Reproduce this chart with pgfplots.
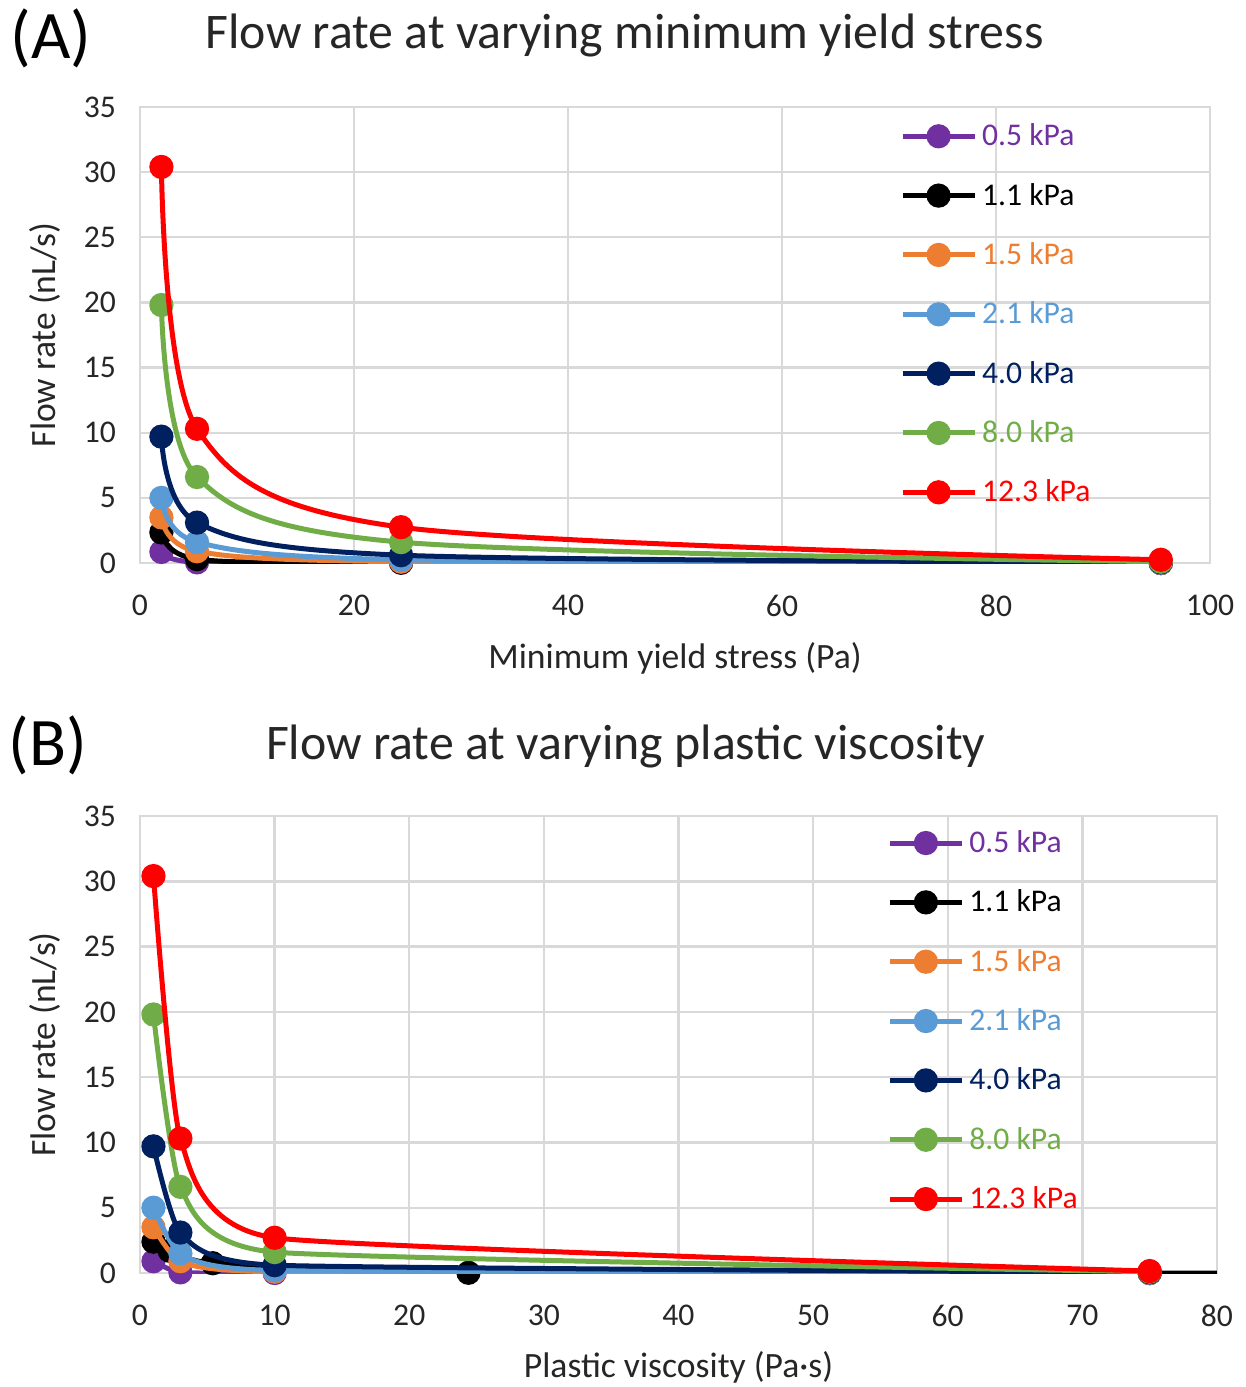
\documentclass[border=0pt]{standalone}
\usepackage{fontspec}
\setmainfont{Carlito}
\usepackage{pgfplots}
\pgfplotsset{compat=1.18}

\definecolor{cpurple}{HTML}{7030A0}
\definecolor{cblack}{HTML}{000000}
\definecolor{corange}{HTML}{ED7D31}
\definecolor{cltblue}{HTML}{5B9BD5}
\definecolor{cnavy}{HTML}{002060}
\definecolor{cgreen}{HTML}{70AD47}
\definecolor{cred}{HTML}{FF0000}
\definecolor{gridgray}{HTML}{D9D9D9}
\definecolor{txt}{HTML}{262626}

\newcommand{\tickfont}{\fontsize{15.8}{19}\selectfont}
\newcommand{\labfont}{\fontsize{17.8}{21}\selectfont}
\newcommand{\titfont}{\fontsize{24.9}{30}\selectfont}
\newcommand{\tagfont}{\fontsize{34}{40}\selectfont}

\pgfplotsset{
  flowaxis/.style={
    scale only axis,
    ymin=0, ymax=35, ytick={0,5,...,35},
    grid=major,
    grid style={line width=1.2pt, color=gridgray},
    axis line style={line width=1.2pt, color=gridgray},
    tick style={draw=none},
    /pgf/number format/assume math mode=true,
    ticklabel style={font=\tickfont, text=txt},
    yticklabel style={xshift=-8.5pt},
    xticklabel style={yshift=-12.5pt},
    label style={font=\labfont, text=txt},
    title style={font=\titfont, text=txt, anchor=center},
    clip mode=individual,
    legend cell align=left,
    legend style={draw=none, fill=none, anchor=north west, font=\tickfont,
      row sep=12.2pt, inner sep=0pt,
      nodes={inner sep=2.5pt}},
    legend image code/.code={
      \draw[mark repeat=2, mark phase=2]
        plot coordinates {(0pt,0pt) (18pt,0pt) (36pt,0pt)};},
    every axis plot/.append style={line width=2.5pt, mark=*, mark size=4.8pt, smooth},
  }
}

\begin{document}
\begin{tikzpicture}
\useasboundingbox (0,0) rectangle (623pt,-693.5pt);

% Panel (A): flow rate against minimum yield stress
\begin{axis}[flowaxis,
  at={(70pt,-281.5pt)}, anchor=south west,
  width=535pt, height=228pt,
  xmin=0, xmax=100, xtick={0,20,...,100},
  xlabel={Minimum yield stress (Pa)},
  ylabel={Flow rate (nL/s)},
  xlabel style={at={(axis description cs:0.5,-0.208)}, anchor=center},
  ylabel style={at={(axis description cs:-0.0888,0.5)}, anchor=center},
  title={Flow rate at varying minimum yield stress},
  title style={at={(axis description cs:0.453,1.131)}},
  legend style={at={(axis description cs:0.710,0.975)}},
]
\addplot[color=cpurple] coordinates {(2,0.85) (5.33,0.05) (24.4,0.02) (95.4,0)};
\addlegendentry{\textcolor{cpurple}{0.5 kPa}}
\addplot[color=cblack] coordinates {(2,2.35) (5.33,0.3) (24.4,0.03) (95.4,0)};
\addlegendentry{\textcolor{cblack}{1.1 kPa}}
\addplot[color=corange] coordinates {(2,3.5) (5.33,0.9) (24.4,0.1) (95.4,0)};
\addlegendentry{\textcolor{corange}{1.5 kPa}}
\addplot[color=cltblue] coordinates {(2,5.0) (5.33,1.6) (24.4,0.25) (95.4,0.02)};
\addlegendentry{\textcolor{cltblue}{2.1 kPa}}
\addplot[color=cnavy] coordinates {(2,9.7) (5.33,3.1) (24.4,0.6) (95.4,0.05)};
\addlegendentry{\textcolor{cnavy}{4.0 kPa}}
\addplot[color=cgreen] coordinates {(2,19.8) (5.33,6.6) (24.4,1.6) (95.4,0.1)};
\addlegendentry{\textcolor{cgreen}{8.0 kPa}}
\addplot[color=cred] coordinates {(2,30.4) (5.33,10.3) (24.4,2.75) (95.4,0.25)};
\addlegendentry{\textcolor{cred}{12.3 kPa}}
\end{axis}

% Panel (B): flow rate against plastic viscosity
\begin{axis}[flowaxis,
  at={(70pt,-636.5pt)}, anchor=south west,
  width=538.5pt, height=228.5pt,
  xmin=0, xmax=80, xtick={0,10,...,80},
  xlabel={Plastic viscosity (Pa·s)},
  ylabel={Flow rate (nL/s)},
  xlabel style={at={(axis description cs:0.5,-0.206)}, anchor=center},
  ylabel style={at={(axis description cs:-0.0882,0.5)}, anchor=center},
  title={Flow rate at varying plastic viscosity},
  title style={at={(axis description cs:0.451,1.125)}},
  legend style={at={(axis description cs:0.6936,0.980)}},
  every axis plot/.append style={tension=0.28},
]
\addplot[color=cpurple] coordinates {(1,0.9) (3,0.05) (10,0) (75,0)};
\addlegendentry{\textcolor{cpurple}{0.5 kPa}}
\addplot[color=cblack] coordinates {(1,2.4) (2.2,1.7) (5.4,0.75) (24.4,0.02) (75,0) (100,0)};
\addlegendentry{\textcolor{cblack}{1.1 kPa}}
\addplot[color=corange] coordinates {(1,3.5) (3,0.9) (10,0.1) (75,0)};
\addlegendentry{\textcolor{corange}{1.5 kPa}}
\addplot[color=cltblue] coordinates {(1,5.0) (3,1.5) (10,0.2) (75,0.02)};
\addlegendentry{\textcolor{cltblue}{2.1 kPa}}
\addplot[color=cnavy] coordinates {(1,9.7) (3,3.1) (10,0.6) (75,0.05)};
\addlegendentry{\textcolor{cnavy}{4.0 kPa}}
\addplot[color=cgreen] coordinates {(1,19.8) (3,6.6) (10,1.6) (75,0.1)};
\addlegendentry{\textcolor{cgreen}{8.0 kPa}}
\addplot[color=cred] coordinates {(1,30.4) (3,10.3) (10,2.7) (75,0.15)};
\addlegendentry{\textcolor{cred}{12.3 kPa}}
\end{axis}

\node[font=\tagfont, text=black, anchor=center] at (25.5pt,-19pt) {(A)};
\node[font=\tagfont, text=black, anchor=center] at (24pt,-372.5pt) {(B)};
\end{tikzpicture}
\end{document}
